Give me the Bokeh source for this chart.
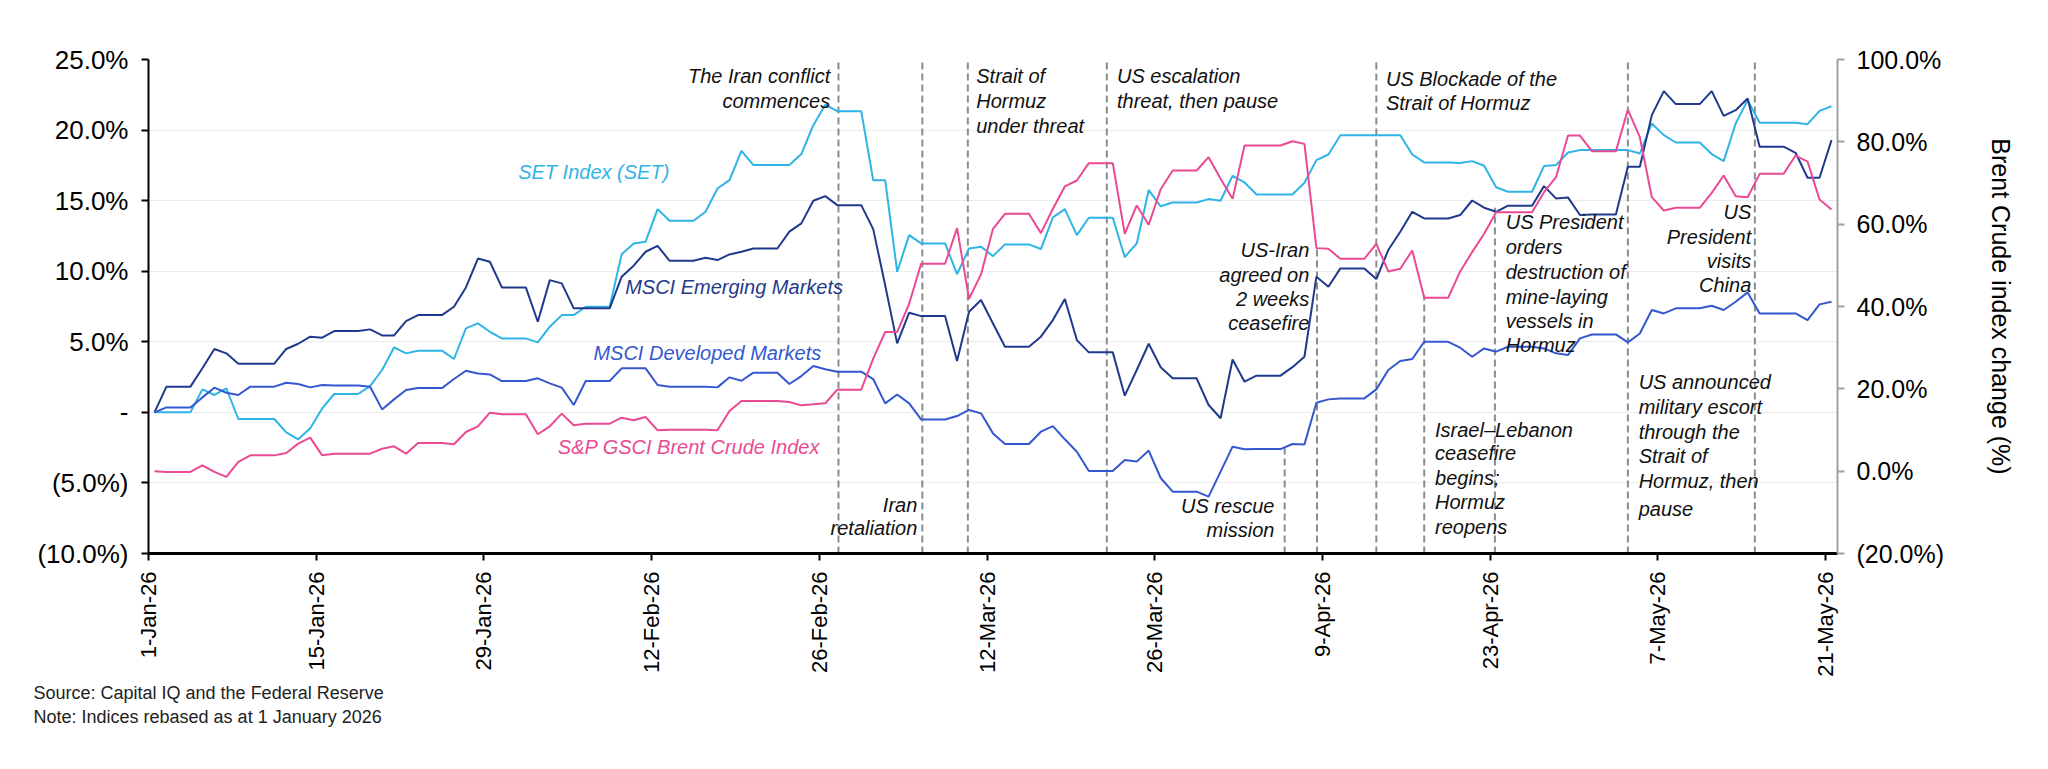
import math
import pandas as pd
from bokeh.plotting import figure
from bokeh.models import (ColumnDataSource, Range1d, LinearAxis, FixedTicker, Title)
from bokeh.core.properties import value
from bokeh.embed import file_html
from bokeh.resources import INLINE

# ---------------- data (daily, weekends carried as flat segments) ----------------
start_date = "2026-01-01"
em = [0.00, 1.82, 1.82, 1.82, 3.12, 4.49, 4.18, 3.45, 3.45, 3.45, 3.45, 4.49, 4.86, 5.36, 5.29,
      5.76, 5.76, 5.76, 5.88, 5.45, 5.45, 6.47, 6.89, 6.89, 6.89, 7.48, 8.85, 10.90, 10.67, 8.85,
      8.85, 8.85, 6.42, 9.37, 9.14, 7.37, 7.37, 7.37, 7.37, 9.61, 10.39, 11.38, 11.80, 10.74, 10.74,
      10.74, 10.95, 10.79, 11.19, 11.38, 11.61, 11.61, 11.61, 12.80, 13.39, 14.99, 15.32, 14.68, 14.68, 14.68,
      12.98, 9.00, 4.89, 7.06, 6.82, 6.82, 6.82, 3.64, 7.13, 7.96, 6.30, 4.65, 4.65, 4.65, 5.36,
      6.54, 8.03, 5.12, 4.25, 4.25, 4.25, 1.18, 3.00, 4.86, 3.20, 2.41, 2.41, 2.41, 0.52, -0.42,
      3.75, 2.17, 2.60, 2.60, 2.60, 3.20, 3.94, 9.61, 8.90, 10.20, 10.20, 10.20, 9.44, 11.50, 12.80,
      14.21, 13.74, 13.74, 13.74, 13.98, 15.01, 14.50, 14.21, 14.64, 14.64, 14.64, 16.03, 15.16, 15.23, 13.98,
      14.02, 14.02, 14.02, 17.40, 17.40, 21.06, 22.76, 21.84, 21.84, 21.84, 22.76, 21.01, 21.41, 22.24, 18.82,
      18.82, 18.82, 18.39, 16.62, 16.62, 19.29]
set_idx = [0.00, 0.00, 0.00, 0.00, 1.63, 1.23, 1.70, -0.47, -0.47, -0.47, -0.47, -1.42, -1.91, -1.13, 0.28,
           1.30, 1.30, 1.30, 1.86, 3.00, 4.60, 4.18, 4.37, 4.37, 4.37, 3.78, 5.95, 6.30, 5.71, 5.24,
           5.24, 5.24, 4.96, 6.07, 6.89, 6.89, 7.48, 7.48, 7.48, 11.21, 11.97, 12.09, 14.40, 13.57, 13.57,
           13.57, 14.21, 15.86, 16.45, 18.53, 17.52, 17.52, 17.52, 17.52, 18.30, 20.35, 21.80, 21.34, 21.34, 21.34,
           16.45, 16.45, 9.96, 12.56, 11.97, 11.97, 11.97, 9.80, 11.61, 11.73, 11.07, 11.90, 11.90, 11.90, 11.57,
           13.81, 14.40, 12.56, 13.79, 13.79, 13.79, 11.00, 11.97, 15.75, 14.60, 14.87, 14.87, 14.87, 15.11, 14.99,
           16.76, 16.29, 15.44, 15.44, 15.44, 15.44, 16.27, 17.87, 18.27, 19.64, 19.64, 19.64, 19.64, 19.64, 19.64,
           18.27, 17.71, 17.71, 17.71, 17.66, 17.80, 17.47, 15.95, 15.63, 15.63, 15.63, 17.45, 17.52, 18.41, 18.58,
           18.58, 18.58, 18.58, 18.58, 18.34, 20.47, 19.64, 19.12, 19.12, 19.12, 18.30, 17.80, 20.47, 22.12, 20.52,
           20.52, 20.52, 20.52, 20.42, 21.36, 21.69]
dm = [0.00, 0.35, 0.35, 0.35, 1.06, 1.75, 1.39, 1.23, 1.82, 1.82, 1.82, 2.10, 2.01, 1.77, 1.94,
      1.91, 1.91, 1.91, 1.82, 0.21, 0.92, 1.58, 1.72, 1.72, 1.72, 2.36, 2.95, 2.76, 2.69, 2.22,
      2.22, 2.22, 2.41, 2.05, 1.75, 0.52, 2.22, 2.22, 2.22, 3.12, 3.12, 3.12, 1.94, 1.82, 1.82,
      1.82, 1.82, 1.77, 2.48, 2.24, 2.81, 2.81, 2.81, 2.01, 2.57, 3.28, 3.05, 2.88, 2.88, 2.88,
      2.36, 0.64, 1.27, 0.64, -0.50, -0.50, -0.50, -0.26, 0.17, -0.07, -1.49, -2.24, -2.24, -2.24, -1.37,
      -0.97, -1.91, -2.79, -4.15, -4.15, -4.15, -3.38, -3.49, -2.71, -4.65, -5.62, -5.62, -5.62, -5.97, -4.20,
      -2.43, -2.62, -2.60, -2.60, -2.60, -2.24, -2.27, 0.68, 0.92, 0.99, 0.99, 0.99, 1.63, 3.00, 3.64,
      3.78, 5.00, 5.00, 5.00, 4.58, 3.94, 4.53, 4.30, 4.65, 4.65, 4.65, 4.53, 4.18, 4.06, 5.24,
      5.52, 5.52, 5.52, 4.96, 5.59, 7.25, 7.01, 7.37, 7.37, 7.37, 7.55, 7.25, 7.84, 8.50, 7.01,
      7.01, 7.01, 7.01, 6.54, 7.65, 7.84]
brent = [0.00, -0.19, -0.19, -0.19, 1.42, -0.19, -1.40, 2.24, 3.84, 3.84, 3.84, 4.41, 6.69, 8.14, 3.84,
         4.25, 4.25, 4.25, 4.25, 5.44, 6.03, 4.25, 6.84, 6.84, 6.84, 6.53, 9.51, 10.89, 14.20, 13.80,
         13.80, 13.80, 8.96, 10.90, 13.97, 11.14, 11.54, 11.54, 11.54, 13.00, 12.35, 13.16, 9.92, 10.09, 10.09,
         10.09, 10.09, 9.92, 14.62, 17.05, 17.05, 17.05, 17.05, 16.80, 15.99, 16.24, 16.50, 19.80, 19.80, 19.80,
         27.33, 33.80, 33.80, 40.67, 50.38, 50.38, 50.38, 59.04, 41.89, 47.80, 58.88, 62.52, 62.52, 62.52, 57.83,
         63.73, 69.16, 70.61, 74.82, 74.82, 74.82, 57.66, 64.54, 59.85, 68.50, 73.03, 73.03, 73.03, 76.27, 71.01,
         66.15, 79.10, 79.10, 79.10, 79.10, 80.15, 79.50, 54.18, 54.02, 51.59, 51.59, 51.59, 55.23, 48.52, 49.17,
         53.62, 42.13, 42.13, 42.13, 48.52, 53.21, 57.66, 62.92, 62.92, 62.92, 62.92, 67.77, 71.42, 81.53, 81.53,
         77.73, 77.73, 77.73, 87.84, 81.13, 66.55, 63.33, 63.97, 63.97, 63.97, 67.61, 71.82, 66.80, 66.55, 72.22,
         72.22, 72.22, 76.67, 75.21, 65.99, 63.57]

tick_labels = ["1-Jan-26", "15-Jan-26", "29-Jan-26", "12-Feb-26", "26-Feb-26", "12-Mar-26",
               "26-Mar-26", "9-Apr-26", "23-Apr-26", "7-May-26", "21-May-26"]
left_ticks = [-10, -5, 0, 5, 10, 15, 20, 25]
left_labels = ["(10.0%)", "(5.0%)", "-", "5.0%", "10.0%", "15.0%", "20.0%", "25.0%"]
right_ticks = [-20, 0, 20, 40, 60, 80, 100]
right_labels = ["(20.0%)", "0.0%", "20.0%", "40.0%", "60.0%", "80.0%", "100.0%"]

# event markers: position on the day axis and top of the dashed line (left-axis %)
event_day = [57.6, 64.6, 68.4, 80.0, 94.85, 97.55, 102.5, 106.5, 112.4, 123.5, 134.1]
event_top = [25, 25, 25, 25, -2.5, 11.7, 25, 8.3, 14.5, 25, 25]

# ---------------- build ----------------
t0 = pd.Timestamp(start_date)
dates = pd.date_range(t0, periods=len(em), freq="D")
xpos = [(d - t0).days + 0.5 for d in dates]
src = ColumnDataSource(dict(x=xpos, em=em, set=set_idx, dm=dm, brent=brent))

tick_pos = [(pd.Timestamp(pd.to_datetime(t, format="%d-%b-%y")) - t0).days for t in tick_labels]

FONT = "Liberation Sans"
p = figure(width=2048, height=769, x_range=Range1d(0, 141), y_range=Range1d(-10, 25),
           output_backend="svg", toolbar_location=None,
           min_border_left=148, min_border_right=211, min_border_top=59, min_border_bottom=216)
p.outline_line_color = None
p.background_fill_color = "white"
p.border_fill_color = "white"

p.extra_y_ranges = {"brent": Range1d(-20, 100)}

# grid
p.xgrid.grid_line_color = None
p.ygrid.grid_line_color = "#ececec"
p.ygrid.grid_line_width = 1
p.ygrid.ticker = FixedTicker(ticks=left_ticks)

# left axis
ya = p.yaxis[0]
ya.ticker = FixedTicker(ticks=left_ticks)
ya.major_label_overrides = {t: l for t, l in zip(left_ticks, left_labels)}
ya.axis_line_color = "black"
ya.axis_line_width = 2
ya.major_tick_line_color = "black"
ya.major_tick_line_width = 2
ya.major_tick_out = 7
ya.major_tick_in = 0
ya.minor_tick_line_color = None
ya.major_label_text_font = FONT
ya.major_label_text_font_size = "26px"
ya.major_label_text_color = "black"
ya.major_label_standoff = 13

# bottom axis
xa = p.xaxis[0]
xa.ticker = FixedTicker(ticks=tick_pos)
xa.major_label_overrides = {t: l for t, l in zip(tick_pos, tick_labels)}
xa.major_label_orientation = math.pi / 2
xa.axis_line_color = "black"
xa.axis_line_width = 3
xa.major_tick_line_color = "black"
xa.major_tick_line_width = 2
xa.major_tick_out = 7
xa.major_tick_in = 0
xa.minor_tick_line_color = None
xa.major_label_text_font = FONT
xa.major_label_text_font_size = "22px"
xa.major_label_text_color = "black"
xa.major_label_standoff = 11

# right axis
ra = LinearAxis(y_range_name="brent", ticker=FixedTicker(ticks=right_ticks))
ra.major_label_overrides = {t: l for t, l in zip(right_ticks, right_labels)}
ra.axis_line_color = "#a0a0a0"
ra.axis_line_width = 2
ra.major_tick_line_color = "#a0a0a0"
ra.major_tick_line_width = 2
ra.major_tick_out = 7
ra.major_tick_in = 0
ra.minor_tick_line_color = None
ra.major_label_text_font = FONT
ra.major_label_text_font_size = "25px"
ra.major_label_text_color = "black"
ra.major_label_standoff = 12
ra.axis_label = "Brent Crude index change (%)"
ra.axis_label_text_font = FONT
ra.axis_label_text_font_size = "25px"
ra.axis_label_text_font_style = "normal"
ra.axis_label_text_color = "black"
ra.axis_label_standoff = 40
p.add_layout(ra, "right")

# event lines
p.segment(x0=event_day, y0=[-10] * len(event_day), x1=event_day, y1=event_top,
          line_color="#8c8c8c", line_width=2, line_dash="7 4")

# series
C_SET, C_EM, C_DM, C_BR = "#2fb4e6", "#1f3a8c", "#3557cf", "#ea4a94"
p.line("x", "set", source=src, line_color=C_SET, line_width=2)
p.line("x", "em", source=src, line_color=C_EM, line_width=2)
p.line("x", "dm", source=src, line_color=C_DM, line_width=2)
p.line("x", "brent", source=src, line_color=C_BR, line_width=2, y_range_name="brent")

# series labels
ser = ColumnDataSource(dict(
    x=[30.86, 39.79, 37.14, 34.17],
    y=[17.0, 8.85, 4.22, -2.44],
    t=["SET Index (SET)", "MSCI Emerging Markets", "MSCI Developed Markets", "S&P GSCI Brent Crude Index"],
    c=[C_SET, C_EM, C_DM, C_BR]))
p.text("x", "y", text="t", source=ser, text_color="c", text_font=value(FONT),
       text_font_style="italic", text_font_size="20px", text_align="left", text_baseline="middle")

# annotations
ann_r = [("The Iran conflict", 56.91, 23.84), ("commences", 56.91, 22.07),
         ("Iran", 64.18, -6.57), ("retaliation", 64.18, -8.19),
         ("US-Iran", 96.91, 11.49), ("agreed on", 96.91, 9.72), ("2 weeks", 96.91, 8.02), ("ceasefire", 96.91, 6.32),
         ("US rescue", 93.99, -6.64), ("mission", 93.99, -8.34),
         ("US", 133.8, 14.18), ("President", 133.8, 12.42), ("visits", 133.8, 10.71), ("China", 133.8, 9.02)]
ann_l = [("Strait of", 69.1, 23.84), ("Hormuz", 69.1, 22.07), ("under threat", 69.1, 20.30),
         ("US escalation", 80.85, 23.84), ("threat, then pause", 80.85, 22.07),
         ("US Blockade of the", 103.3, 23.65), ("Strait of Hormuz", 103.3, 21.9),
         ("Israel\u2013Lebanon", 107.4, -1.25), ("ceasefire", 107.4, -2.88), ("begins;", 107.4, -4.65),
         ("Hormuz", 107.4, -6.35), ("reopens", 107.4, -8.12),
         ("US President", 113.3, 13.48), ("orders", 113.3, 11.71), ("destruction of", 113.3, 9.94),
         ("mine-laying", 113.3, 8.17), ("vessels in", 113.3, 6.47), ("Hormuz", 113.3, 4.77),
         ("US announced", 124.4, 2.15), ("military escort", 124.4, 0.38), ("through the", 124.4, -1.39),
         ("Strait of", 124.4, -3.09), ("Hormuz, then", 124.4, -4.86), ("pause", 124.4, -6.85)]
for items, align in ((ann_r, "right"), (ann_l, "left")):
    s = ColumnDataSource(dict(t=[a[0] for a in items], x=[a[1] for a in items], y=[a[2] for a in items]))
    p.text("x", "y", text="t", source=s, text_color="#111111", text_font=value(FONT),
           text_font_style="italic", text_font_size="20px", text_align=align, text_baseline="middle")

# footnotes (stacked below the date axis)
for txt in ("Source: Capital IQ and the Federal Reserve", "Note: Indices rebased as at 1 January 2026"):
    p.add_layout(Title(text=txt, align="left", offset=-115, text_font=FONT, text_font_size="18px",
                       text_font_style="normal", text_color="#222222", standoff=2), "below")

open("out.html", "w").write(file_html(p, INLINE))
